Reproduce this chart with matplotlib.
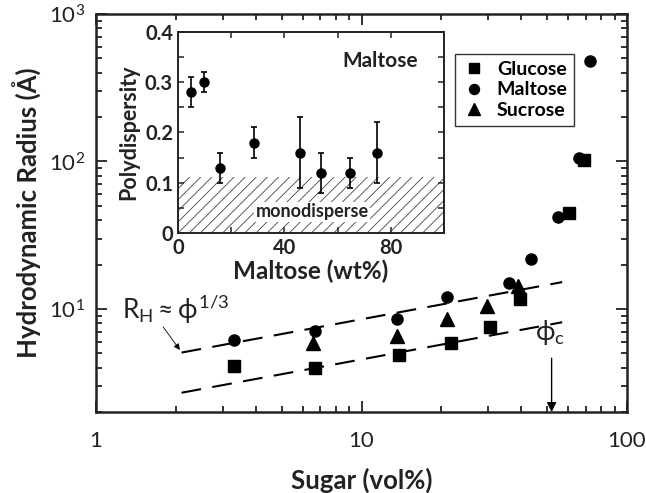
import numpy as np
import matplotlib.pyplot as plt
from matplotlib.ticker import FixedLocator, NullFormatter, FixedFormatter, LogLocator

plt.rcParams['font.family'] = ['Lato', 'DejaVu Sans']
plt.rcParams['mathtext.fontset'] = 'custom'
plt.rcParams['mathtext.rm'] = 'Lato'
plt.rcParams['mathtext.it'] = 'Lato'
plt.rcParams['mathtext.bf'] = 'Lato:bold'
plt.rcParams['hatch.linewidth'] = 0.6

# hydrodynamic radius vs sugar concentration
glucose_x = [3.3, 6.7, 13.9, 21.8, 30.4, 39.6, 60.6, 68.6]
glucose_r = [4.1, 4.0, 4.9, 5.9, 7.5, 11.6, 44.6, 102]
maltose_x = [3.3, 6.7, 13.6, 20.9, 35.8, 43.4, 55.1, 66.1, 72.7]
maltose_r = [6.2, 7.1, 8.5, 12.0, 14.9, 21.7, 42.2, 106, 480]
sucrose_x = [6.55, 13.6, 21.0, 29.6, 38.7]
sucrose_r = [5.9, 6.6, 8.5, 10.4, 14.3]

# R_H ~ phi^(1/3) guide lines
fit_x = [2.1, 57.0]
fit_upper = 3.95
fit_lower = 2.11
phi_c = 52

# polydispersity of maltose samples
poly_x = [4.9, 9.8, 15.8, 28.7, 45.7, 53.8, 64.7, 74.8]
poly_y = [0.28, 0.30, 0.13, 0.18, 0.16, 0.12, 0.12, 0.16]
poly_err = [0.03, 0.02, 0.03, 0.03, 0.07, 0.04, 0.03, 0.06]
mono_limit = 0.112

ink = '#222222'

fig = plt.figure(figsize=(6.46, 4.93), dpi=100)
ax = fig.add_axes([0.1486, 0.1643, 0.8220, 0.8073])

ax.plot(glucose_x, glucose_r, 's', color='black', ms=8, label='Glucose')
ax.plot(maltose_x, maltose_r, 'o', color='black', ms=8, label='Maltose')
ax.plot(sucrose_x, sucrose_r, '^', color='black', ms=9.5, label='Sucrose')

fx = np.array(fit_x)
for a in (fit_upper, fit_lower):
    ax.plot(fx, a * fx ** (1 / 3), color='black', lw=1.5, dashes=(9.5, 5.5))

ax.set_xscale('log')
ax.set_yscale('log')
ax.set_xlim(1, 100)
ax.set_ylim(2, 1000)

ax.xaxis.set_major_locator(FixedLocator([1, 10, 100]))
ax.xaxis.set_major_formatter(FixedFormatter(['1', '10', '100']))
ax.yaxis.set_major_locator(FixedLocator([10, 100, 1000]))
ax.yaxis.set_major_formatter(FixedFormatter([r'$10^1$', r'$10^2$', r'$10^3$']))
ax.xaxis.set_minor_locator(LogLocator(base=10, subs=np.arange(2, 10)))
ax.yaxis.set_minor_locator(LogLocator(base=10, subs=np.arange(2, 10)))
ax.xaxis.set_minor_formatter(NullFormatter())
ax.yaxis.set_minor_formatter(NullFormatter())
ax.tick_params(which='both', direction='in', top=True, right=True, width=1.3, colors=ink)
ax.tick_params(which='major', length=8, labelsize=16)
ax.tick_params(which='minor', length=4)
ax.tick_params(axis='x', which='major', pad=14)
ax.tick_params(axis='y', which='major', pad=8)
for s in ax.spines.values():
    s.set_linewidth(1.8)
    s.set_color(ink)

ax.set_xlabel('Sugar (vol%)', fontsize=18.5, fontweight='bold', labelpad=12, color=ink)
ax.set_ylabel('Hydrodynamic Radius (Å)', fontsize=18.5, fontweight='bold', labelpad=5, color=ink)

leg = ax.legend(loc='upper left', bbox_to_anchor=(0.676, 0.8995),
                prop={'weight': 'bold', 'size': 14}, frameon=True, fancybox=False,
                handletextpad=0.5, borderpad=0.35, labelspacing=0.18, handlelength=1.3,
                borderaxespad=0, markerscale=0.9)
leg.get_frame().set_edgecolor('black')
leg.get_frame().set_linewidth(1.0)

# R_H scaling label with a thin pointer to the upper guide line
ax.text(1.25, 8.5, r'$R_H \approx \phi^{1/3}$', fontsize=19, color=ink, va='baseline')
ax.annotate('', xy=(2.07, 5.27), xytext=(1.79, 7.55),
            arrowprops=dict(arrowstyle='-|>', color='black', lw=0.6,
                            shrinkA=0, shrinkB=0, mutation_scale=9))

# critical concentration
ax.text(phi_c * 0.985, 6.9, r'$\phi_c$', ha='center', va='center', fontsize=19, color=ink)
ax.annotate('', xy=(phi_c, 2.0), xytext=(phi_c, 4.63),
            arrowprops=dict(arrowstyle='-|>', color='black', lw=1.0,
                            shrinkA=0, shrinkB=0, mutation_scale=14))

# inset: polydispersity
ins = fig.add_axes([0.2755, 0.5274, 0.4118, 0.4077])
ins.axhspan(0, mono_limit, facecolor='white', edgecolor='#444444', hatch='///', lw=0)
ins.errorbar(poly_x, poly_y, yerr=poly_err, fmt='o', color='black', ms=6.5,
             elinewidth=1.2, capsize=2, capthick=1.2)
ins.set_xlim(0, 100)
ins.set_ylim(0, 0.4)
ins.set_xticks([0, 40, 80])
ins.set_xticks([20, 60, 100], minor=True)
ins.set_yticks([0, 0.1, 0.2, 0.3, 0.4])
ins.set_yticklabels(['0', '0.1', '0.2', '0.3', '0.4'])
ins.set_yticks([0.05, 0.15, 0.25, 0.35], minor=True)
ins.tick_params(which='both', direction='in', top=True, right=True, length=4, width=1.1,
                labelsize=14.5, colors=ink)
for lab in ins.get_xticklabels() + ins.get_yticklabels():
    lab.set_fontweight('bold')
for s in ins.spines.values():
    s.set_linewidth(1.4)
    s.set_color(ink)
ins.set_xlabel('Maltose (wt%)', fontsize=17.5, fontweight='bold', labelpad=1, color=ink)
ins.set_ylabel('Polydispersity', fontsize=15.5, fontweight='bold', labelpad=4, color=ink)
ins.text(76, 0.343, 'Maltose', ha='center', va='center', fontsize=15, fontweight='bold',
         color=ink)
ins.text(50.5, 0.042, 'monodisperse', ha='center', va='center', fontsize=13, fontweight='bold',
         color=ink, bbox=dict(facecolor='white', edgecolor='none', pad=1))

fig.savefig('out.png', dpi=100)
